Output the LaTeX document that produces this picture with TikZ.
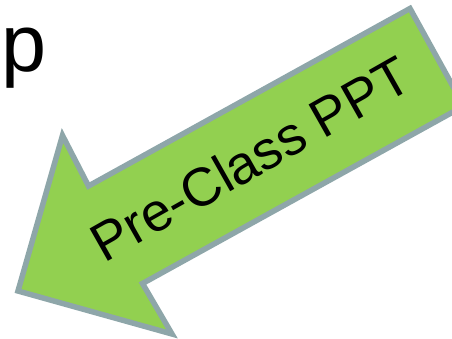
\documentclass[tikz,border=0pt]{standalone}
\usepackage{fontspec}
\setmainfont{Liberation Sans}
\definecolor{arrowgreen}{HTML}{92D050}
\definecolor{arrowedge}{HTML}{8EA6A9}
\begin{document}
\begin{tikzpicture}[x=1pt,y=-1pt,
  bigarrow/.style={fill=arrowgreen,draw=arrowedge,line width=5.5pt,line join=miter},
  arrowlabel/.style={inner sep=0pt,anchor=base west,rotate=29.5,font=\fontsize{54}{60}\selectfont},
  headtext/.style={inner sep=0pt,anchor=base west,font=\fontsize{81}{90}\selectfont}]
\useasboundingbox (0,0) rectangle (452,339);
\clip (0,0) rectangle (452,339);
\coordinate (A) at (62.5,135.5);
\coordinate (B) at (88.5,186);
\coordinate (C) at (410,8.5);
\coordinate (D) at (463.8,106);
\coordinate (E) at (142.5,283.5);
\coordinate (F) at (172,334);
\coordinate (G) at (18,291);
\draw[bigarrow] (A) -- (B) -- (C) -- (D) -- (E) -- (F) -- (G) -- cycle;
\node[headtext] (ptext) at (1,72) {p};
\node[arrowlabel] (label) at (104.3,263.5) {Pre-Class PPT};
\end{tikzpicture}
\end{document}
